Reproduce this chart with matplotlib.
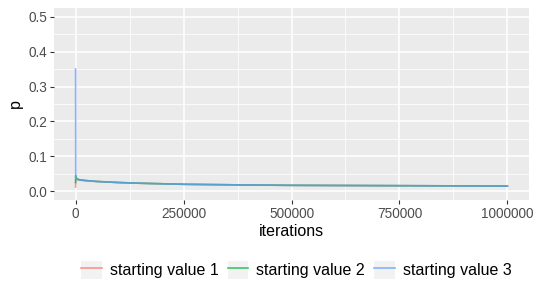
import matplotlib
matplotlib.use("Agg")
import matplotlib.pyplot as plt
from matplotlib.lines import Line2D
from matplotlib.patches import Rectangle
from matplotlib.legend_handler import HandlerTuple
import numpy as np

plt.rcParams['font.family'] = ['Liberation Sans', 'DejaVu Sans']

# iterations sampled along the chains
iters_1 = [0, 300, 1000, 3000, 10000, 20000, 50000, 100000, 150000, 250000, 400000, 500000, 750000, 1000000]
p_1 = [0.012, 0.030, 0.036, 0.034, 0.032, 0.031, 0.028, 0.025, 0.023, 0.020, 0.018, 0.017, 0.016, 0.015]
iters_2 = [0, 300, 1000, 3000, 10000, 20000, 50000, 100000, 150000, 250000, 400000, 500000, 750000, 1000000]
p_2 = [0.025, 0.045, 0.040, 0.036, 0.033, 0.031, 0.028, 0.025, 0.023, 0.020, 0.018, 0.017, 0.016, 0.015]
iters_3 = [0, 300, 1000, 3000, 10000, 20000, 50000, 100000, 150000, 250000, 400000, 500000, 750000, 1000000]
p_3 = [0.35, 0.040, 0.036, 0.034, 0.032, 0.031, 0.028, 0.025, 0.023, 0.020, 0.018, 0.017, 0.016, 0.015]

labels = ["starting value 1", "starting value 2", "starting value 3"]
colors = ["#F8766D", "#00BA38", "#619CFF"]
x_ticks = [0, 250000, 500000, 750000, 1000000]
y_ticks = [0.0, 0.1, 0.2, 0.3, 0.4, 0.5]

fig = plt.figure(figsize=(5.36, 3.0), dpi=100)
ax = fig.add_axes([54/536, 1-200/300, 475/536, 192/300])
ax.set_facecolor("#EBEBEB")
for s in ax.spines.values():
    s.set_visible(False)

# grid
for v in x_ticks:
    ax.axvline(v, color="white", lw=1.1, zorder=0)
for v in [125000, 375000, 625000, 875000]:
    ax.axvline(v, color="white", lw=0.55, zorder=0)
for v in y_ticks:
    ax.axhline(v, color="white", lw=1.1, zorder=0)
for v in [0.05, 0.15, 0.25, 0.35, 0.45]:
    ax.axhline(v, color="white", lw=0.55, zorder=0)

for xs, ys, c in [(iters_1, p_1, colors[0]), (iters_2, p_2, colors[1]), (iters_3, p_3, colors[2])]:
    ax.plot(xs, ys, color=c, lw=1.2, alpha=0.75, zorder=2)

ax.set_xlim(-50000, 1050000)
ax.set_ylim(-0.025, 0.525)
ax.set_xticks(x_ticks)
ax.set_xticklabels([str(v) for v in x_ticks])
ax.set_yticks(y_ticks)
ax.set_yticklabels(["%.1f" % v for v in y_ticks])
ax.tick_params(length=3, width=0.8, color="#333333", labelcolor="#4D4D4D", labelsize=9.8, pad=2)
ax.set_xlabel("iterations", fontsize=11.5, labelpad=2)
ax.set_ylabel("p", fontsize=11.5, labelpad=4)

handles = [(Rectangle((0, 0), 1, 1, facecolor="#F2F2F2", edgecolor="none"),
            Line2D([0], [0], color=c, lw=1.2, alpha=0.75)) for c in colors]
leg = fig.legend(handles, labels, loc="center", bbox_to_anchor=(0.553, 1-270/300), ncol=3,
                 frameon=False, fontsize=11.5, handlelength=1.3, handleheight=1.35,
                 columnspacing=0.55, handletextpad=0.5,
                 handler_map={tuple: HandlerTuple(ndivide=1, pad=0)})

fig.savefig("out.png", dpi=100)
